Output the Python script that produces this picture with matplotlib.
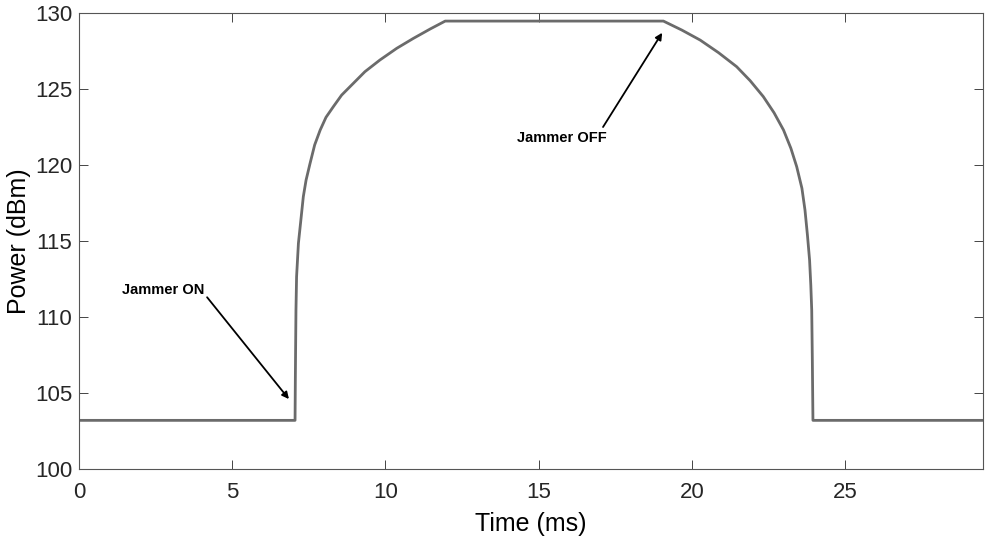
import numpy as np
import matplotlib.pyplot as plt

plt.rcParams['font.family'] = ['Liberation Sans', 'DejaVu Sans']

# power trace (time in ms, power in dBm)
t_ms = [0.0, 7.05, 7.06, 7.07, 7.08, 7.10, 7.16, 7.24, 7.32, 7.41, 7.54, 7.69, 7.87,
        8.06, 8.30, 8.57, 8.95, 9.33, 9.82, 10.37, 10.91, 11.46, 11.95,
        19.07, 19.67, 20.27, 20.87, 21.46, 21.90, 22.33, 22.68, 22.99, 23.23, 23.42,
        23.59, 23.69, 23.77, 23.84, 23.88, 23.91, 23.93, 23.95, 29.5]
p_dbm = [103.2, 103.2, 106.0, 108.27, 110.46, 112.65, 114.85, 116.38, 117.92, 119.01, 120.11, 121.32, 122.3,
         123.14, 123.84, 124.6, 125.37, 126.14, 126.91, 127.68, 128.33, 128.95, 129.47,
         129.47, 128.88, 128.22, 127.39, 126.47, 125.55, 124.5, 123.44, 122.3, 121.1, 119.89,
         118.47, 117.04, 115.39, 113.75, 112.1, 110.46, 107.17, 103.2, 103.2]

# annotations: text, arrow tail, arrow head, text position
ann_text = ["Jammer ON", "Jammer OFF"]
ann_head = [(6.85, 104.6), (19.03, 128.7)]
ann_tail = [(4.18, 111.3), (17.1, 122.5)]
ann_textpos = [(2.75, 111.8), (15.75, 121.8)]

fig = plt.figure(figsize=(9.85, 5.36), dpi=100)
ax = fig.add_axes([0.0802, 0.125, 0.9178, 0.8507])

ax.plot(t_ms, p_dbm, color='#6b6b6b', lw=2.0)

for txt, head, tail, tp in zip(ann_text, ann_head, ann_tail, ann_textpos):
    ax.annotate('', xy=head, xytext=tail,
                arrowprops=dict(arrowstyle='-|>', color='black', lw=1.3,
                                mutation_scale=10, shrinkA=0, shrinkB=0))
    ax.text(tp[0], tp[1], txt, fontsize=10.5, fontweight='bold', ha='center', va='center')

ax.set_xlim(0, 29.5)
ax.set_ylim(100, 130)
ax.set_xticks(np.arange(0, 30, 5))
ax.set_yticks(np.arange(100, 131, 5))
ax.tick_params(direction='in', length=6.5, width=0.6, top=True, right=True,
               labelsize=16, colors='#262626')
ax.tick_params(axis='x', pad=9)
ax.tick_params(axis='y', pad=5)
for sp in ax.spines.values():
    sp.set_color('#555555')
    sp.set_linewidth(0.8)

ax.set_xlabel('Time (ms)', fontsize=18, labelpad=7)
ax.set_ylabel('Power (dBm)', fontsize=18, labelpad=3)

fig.savefig('out.png', dpi=100)
